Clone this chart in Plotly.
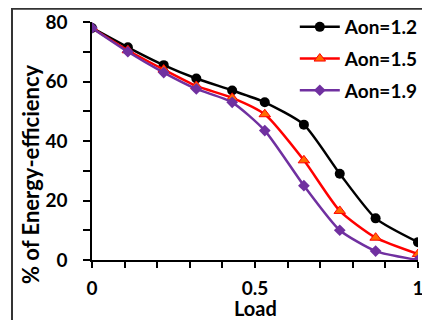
import plotly.graph_objects as go

load = [0, 0.11, 0.22, 0.32, 0.43, 0.53, 0.65, 0.76, 0.87, 1.0]
aon12 = [78, 71.5, 65.5, 61, 57, 53, 45.5, 29, 14, 6]
aon15 = [78, 70.5, 64, 58.5, 54.5, 49, 33.5, 16.5, 7.5, 2]
aon19 = [78, 70, 63, 57.5, 53, 43.5, 25, 10, 3, 0]
names = ["Aon=1.2", "Aon=1.5", "Aon=1.9"]

fig = go.Figure()
fig.add_trace(go.Scatter(x=load, y=aon12, name=names[0], mode="lines+markers",
                         line=dict(color="black", width=2.5, shape="spline", smoothing=0.6),
                         marker=dict(symbol="circle", size=10, color="black"),
                         legendgroup="a"))
fig.add_trace(go.Scatter(x=load, y=aon15, name=names[1], mode="lines+markers",
                         line=dict(color="#FF0000", width=2.5, shape="spline", smoothing=0.6),
                         marker=dict(symbol="triangle-up", size=10, color="#FF6A00",
                                     line=dict(color="#FF0000", width=1)),
                         legendgroup="b"))
fig.add_trace(go.Scatter(x=load, y=aon19, name=names[2], mode="lines+markers",
                         line=dict(color="#7030A0", width=2.5, shape="spline", smoothing=0.6),
                         marker=dict(symbol="diamond", size=9, color="#7030A0"),
                         legendgroup="c"))

font = "Lato"
# page body has an 8px margin; figure coords = page coords - 8
# paper spans fig x 84..422, y 0..252 (from top)
fig.update_layout(
    width=422, height=312,
    margin=dict(l=84, r=0, t=0, b=60),
    paper_bgcolor="white", plot_bgcolor="white",
    font=dict(family=font, color="black"),
    showlegend=True,
    legend=dict(x=0.60, y=1.0, xanchor="left", yanchor="top",
                font=dict(family=font, size=19, color="black", weight="bold"),
                tracegroupgap=4, bgcolor="rgba(0,0,0,0)", itemwidth=40),
    xaxis=dict(domain=[0, 326 / 338], range=[0, 1.0], tickvals=[0, 0.5, 1], ticktext=["0", "0.5", "1"],
               ticks="outside", ticklen=6, tickwidth=1.5, tickcolor="black",
               minor=dict(dtick=0.1, ticks="outside", ticklen=6, tickwidth=1.5, tickcolor="black"),
               showline=True, linecolor="black", linewidth=1.5, showgrid=False, zeroline=False,
               tickfont=dict(family=font, size=19, weight="bold"), ticklabelstandoff=4),
    yaxis=dict(domain=[0, 238 / 252], range=[0, 80], dtick=20,
               ticks="outside", ticklen=7, tickwidth=1.5, tickcolor="black",
               minor=dict(dtick=10, ticks="outside", ticklen=7, tickwidth=1.5, tickcolor="black"),
               showline=True, linecolor="black", linewidth=1.5, showgrid=False, zeroline=False,
               tickfont=dict(family=font, size=19, weight="bold"), ticklabelstandoff=12),
    annotations=[
        dict(text="% of Energy-efficiency", textangle=-90, xref="paper", yref="paper",
             x=-0.1834, y=(252 - 166) / 252, xanchor="center", yanchor="middle", showarrow=False,
             font=dict(family=font, size=22, weight="bold", color="black")),
        dict(text="Load", xref="paper", yref="paper",
             x=(255 - 8 - 84) / 338, y=-(308 - 8 - 252) / 252, xanchor="center", yanchor="middle",
             showarrow=False, font=dict(family=font, size=20, weight="bold", color="black")),
    ],
    shapes=[dict(type="rect", xref="paper", yref="paper", x0=-0.2367, x1=2, y0=-1, y1=0.997,
                 line=dict(color="#333333", width=2), fillcolor="rgba(0,0,0,0)", layer="below")],
)
fig.update_xaxes(automargin=False)
fig.update_yaxes(automargin=False)
fig.write_html("out.html")
